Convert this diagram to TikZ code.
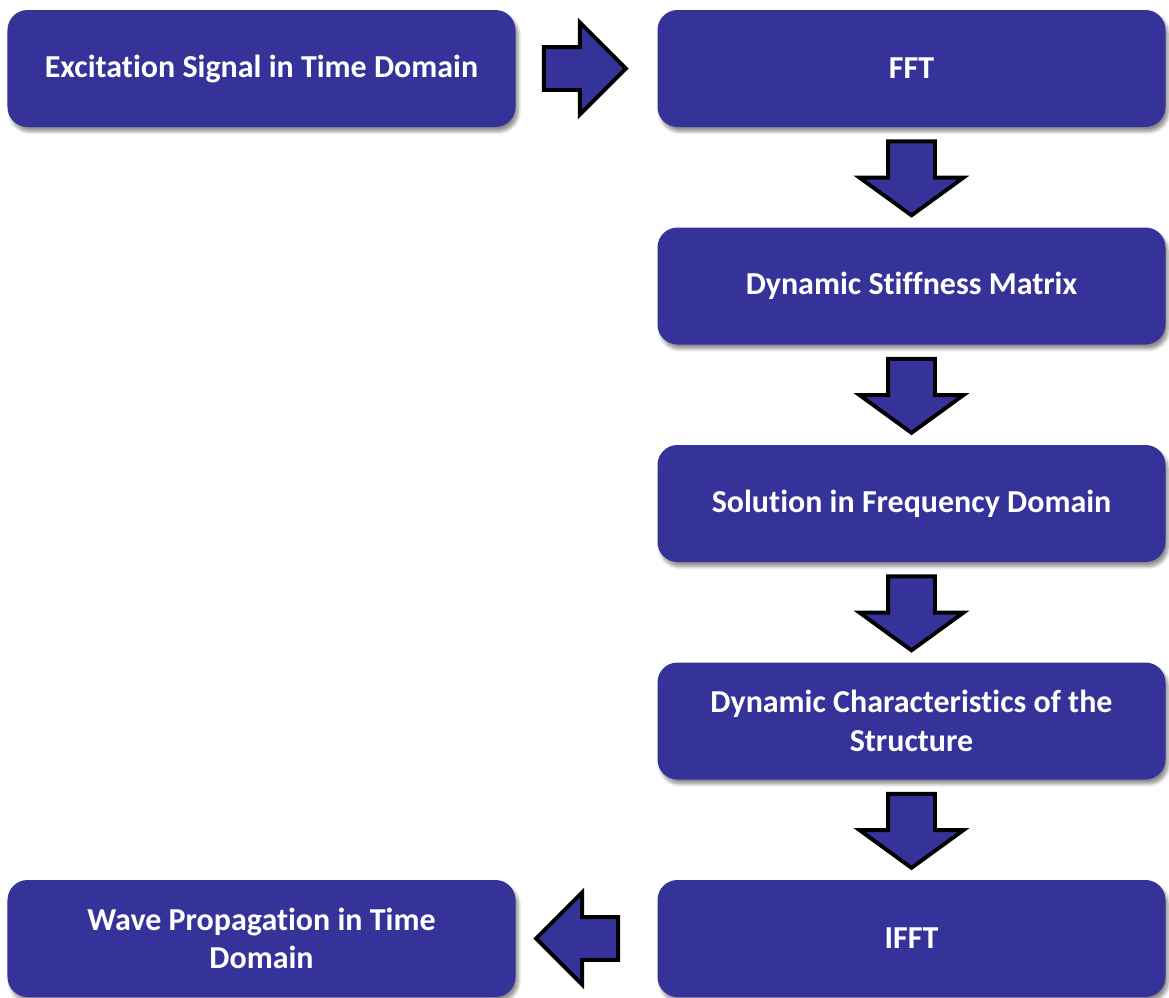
\documentclass[tikz,border=0pt]{standalone}
\usepackage{fontspec}
\setmainfont{Carlito}[Ligatures=NoCommon]
\usetikzlibrary{calc,shapes.arrows,shadows.blur}
\definecolor{boxblue}{RGB}{53,51,153}

\begin{document}
\begin{tikzpicture}[node distance=4.35cm,
	step box/.style = {rectangle, rounded corners=0.4cm, fill=boxblue, text=white,
		minimum width=10.16cm, minimum height=2.34cm, align=center,
		font=\fontsize{18.2}{22}\selectfont\bfseries,
		blur shadow={shadow xshift=1.5pt, shadow yshift=-2.5pt, shadow opacity=45, shadow blur steps=6}},
	flow/.style = {single arrow, draw=black, fill=boxblue, line width=2.2pt, anchor=tail,
		single arrow head indent=0pt, inner xsep=0pt, outer sep=0pt},
	hflow/.style = {flow, inner ysep=0.39cm, minimum height=1.64cm, minimum width=1.76cm,
		single arrow head extend=0.49cm, single arrow tip angle=90},
	vflow/.style = {flow, rotate=-90, inner ysep=0.43cm, minimum height=1.48cm, minimum width=2cm,
		single arrow head extend=0.57cm, single arrow tip angle=108}]

	\useasboundingbox (0,0) rectangle (23.38,-19.94);

	\node[step box] (fft) at (18.23,-1.37) {FFT};
	\node[step box] (exc) [left of=fft, node distance=13cm] {Excitation Signal in Time Domain};
	\node[step box] (dsm) [below of=fft] {Dynamic Stiffness Matrix};
	\node[step box] (sol) [below of=dsm] {Solution in Frequency Domain};
	\node[step box] (dyn) [below of=sol] {Dynamic Characteristics of the\\Structure};
	\node[step box] (ifft) [below of=dyn] {IFFT};
	\node[step box] (wave) [left of=ifft, node distance=13cm] {Wave Propagation in Time\\Domain};

	% block arrows between the steps
	\node[hflow] (a1) at ($(exc.east)+(0.56,0)$) {};
	\node[vflow] (a2) at ($(fft.south)+(0,-0.28)$) {};
	\node[vflow] (a3) at ($(dsm.south)+(0,-0.28)$) {};
	\node[vflow] (a4) at ($(sol.south)+(0,-0.28)$) {};
	\node[vflow] (a5) at ($(dyn.south)+(0,-0.28)$) {};
	\node[hflow, rotate=180] (a6) at ($(ifft.west)+(-0.78,0)$) {};

\end{tikzpicture}
\end{document}
